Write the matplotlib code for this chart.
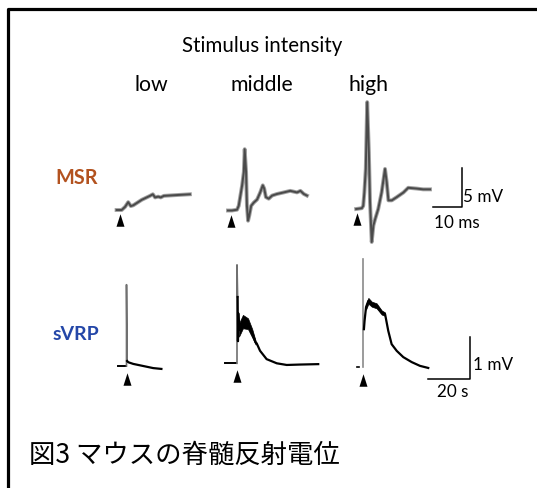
import numpy as np
import matplotlib
matplotlib.use("Agg")
import matplotlib.pyplot as plt
from matplotlib.path import Path

plt.rcParams['font.family'] = ['Lato', 'DejaVu Sans']

# ---- data ----
# MSR traces: time after stimulus (ms), voltage (mV)
msr_low_t = [-1.2, 0.6, 1.8, 2.9, 3.8, 4.7, 7.7, 10.6, 11.6, 12.4, 13.5, 14.4, 15.5, 20.0, 24.7]
msr_low_v = [0.0, 0.0, 0.4, 1.0, 0.5, 0.6, 1.3, 1.8, 2.0, 1.6, 1.7, 1.6, 1.8, 1.9, 2.0]

msr_mid_t = [-1.0, 0.4, 2.2, 2.8, 3.4, 4.0, 4.6, 4.9, 5.4, 5.7, 6.1, 6.5, 7.2, 8.1, 9.3, 10.4,
             11.3, 11.8, 12.4, 13.4, 14.6, 16.3, 18.7, 21.0, 23.4, 24.6, 25.8, 26.9]
msr_mid_v = [0.0, 0.0, 0.1, 0.6, 1.9, 3.2, 4.9, 7.8, 4.9, 0.6, -1.3, -0.7, 0.6, 1.0, 1.4, 2.3,
             3.2, 2.8, 1.7, 1.5, 1.9, 2.1, 2.3, 2.5, 2.3, 2.5, 2.1, 1.9]

msr_high_t = [-0.3, 1.7, 2.2, 2.6, 3.1, 3.6, 4.2, 4.6, 5.2, 5.8, 6.4, 7.5, 8.7, 9.9, 10.5, 11.1,
              12.3, 14.0, 16.4, 18.1, 21.1, 23.4, 25.8]
msr_high_v = [0.0, 0.1, 0.4, 2.1, 5.1, 13.6, 7.2, 0.9, -4.2, -2.1, -1.3, 0.0, 2.1, 5.1, 3.4, 1.1,
              1.1, 1.5, 2.1, 2.7, 2.6, 2.5, 2.5]

# sVRP traces: time after stimulus (s), voltage (mV)
vrp_low_spike = 1.95
vrp_low_t = [0.3, 0.85, 3.2, 7.9, 12.6, 16.5]
vrp_low_v = [0.12, 0.09, 0.05, 0.0, -0.05, -0.07]

vrp_mid_spike = 2.36
vrp_mid_t = [0.3, 0.45, 0.6, 0.95, 2.8, 5.2, 7.2, 8.8, 9.3, 10.9, 14.0, 18.8, 23.5, 29.8, 38.4]
vrp_mid_v = [1.59, 0.53, 1.2, 0.8, 1.0, 0.95, 0.72, 0.50, 0.48, 0.30, 0.10, 0.0, -0.04, -0.03, -0.02]
vrp_mid_band_t = [0.95, 2.8, 5.2, 7.2, 8.8]
vrp_mid_band_lo = [0.64, 0.84, 0.82, 0.62, 0.45]
vrp_mid_band_hi = [0.96, 1.16, 1.08, 0.82, 0.54]

vrp_high_spike = 2.58
vrp_high_t = [0.3, 0.6, 1.3, 2.4, 4.0, 6.3, 8.7, 10.3, 11.8, 13.4, 15.8, 18.9, 22.9, 26.8, 30.7]
vrp_high_v = [0.9, 1.1, 1.43, 1.58, 1.50, 1.46, 1.30, 1.26, 0.86, 0.54, 0.38, 0.23, 0.11, 0.02, -0.03]
vrp_high_band_t = [1.3, 2.4, 4.0, 6.3, 8.7, 10.3]
vrp_high_band_hw = [0.06, 0.07, 0.06, 0.06, 0.05, 0.04]

levels = ['low', 'middle', 'high']

W, H = 537, 489
fig = plt.figure(figsize=(W / 100, H / 100), dpi=100)
bg = fig.add_axes([0, 0, 1, 1])
bg.set_xlim(0, W)
bg.set_ylim(H, 0)
bg.axis('off')

# frame (cropped on right and bottom)
bg.plot([7.5, 7.5, W + 5], [H + 5, 9.5, 9.5], color='black', lw=2.3, solid_capstyle='butt')

bg.text(262, 46, 'Stimulus intensity', ha='center', va='center', fontsize=14.8)
for x, lab in zip([151, 262, 368], levels):
    bg.text(x, 85, lab, ha='center', va='center', fontsize=15.3)

bg.text(77, 178, 'MSR', ha='center', va='center', fontsize=14.3, fontweight='bold', color='#b3521f')
bg.text(76, 335, 'sVRP', ha='center', va='center', fontsize=14, fontweight='bold', color='#2447a8')

bg.text(29, 455, '図3 マウスの脊髄反射電位', ha='left', va='center', fontsize=19,
        family=['Noto Sans CJK JP', 'DejaVu Sans'])

arrow = Path([(-0.32, -0.5), (0.32, -0.5), (0, 0.5), (-0.32, -0.5)],
             [Path.MOVETO, Path.LINETO, Path.LINETO, Path.CLOSEPOLY])


def panel(sx, sy, kx, ky, xlim, ylim):
    # axes whose stimulus point (0, 0) lands on pixel (sx, sy)
    left = sx + xlim[0] * kx
    width = (xlim[1] - xlim[0]) * kx
    bottom_px = sy - ylim[0] * ky
    height = (ylim[1] - ylim[0]) * ky
    ax = fig.add_axes([left / W, (H - bottom_px) / H, width / W, height / H])
    ax.set_xlim(*xlim)
    ax.set_ylim(*ylim)
    ax.axis('off')
    return ax


# MSR row: 2.83 px per ms, 7.86 px per mV
msr_k = (2.83, 7.86)
msr_lims = ((-5, 45), (-6, 15))
msr_panels = [(120, 211, msr_low_t, msr_low_v),
              (230.8, 211.5, msr_mid_t, msr_mid_v),
              (357, 210, msr_high_t, msr_high_v)]
for sx, sy, t, v in msr_panels:
    ax = panel(sx, sy, *msr_k, *msr_lims)
    ax.plot(t, v, color='#a0a0a0', lw=2.8, solid_joinstyle='round')
    ax.plot(t, v, color='#4a4a4a', lw=1.4, solid_joinstyle='round')
    ax.plot([0], [-1.3], marker=arrow, markersize=9, color='black', markeredgewidth=0)
    last = ax

# MSR scale bar (5 mV, 10 ms)
last.plot([27, 37, 37], [0.2, 0.2, 5.2], color='black', lw=1.1)
last.text(37.5, 1.6, '5 mV', ha='left', va='center', fontsize=12.3)
last.text(35.3, -1.6, '10 ms', ha='center', va='center', fontsize=12.3)

# sVRP row: 2.115 px per s, 41.7 px per mV
vrp_k = (2.115, 41.7)
vrp_lims = ((-8, 65), (-0.6, 2.8))

ax = panel(126.5, 367, *vrp_k, *vrp_lims)
ax.plot([-3.9, -0.3], [0, 0], color='black', lw=1.4)
ax.plot([0, 0, 0.3], [0, vrp_low_spike, vrp_low_v[0]], color='#707070', lw=1.2)
ax.plot(vrp_low_t, vrp_low_v, color='black', lw=1.6)
ax.plot([0], [-0.31], marker=arrow, markersize=9, color='black', markeredgewidth=0)

ax = panel(237, 364.3, *vrp_k, *vrp_lims)
ax.plot([-5.7, -0.3], [0, 0], color='black', lw=1.4)
ax.plot([0, 0, 0.3], [0, vrp_mid_spike, vrp_mid_v[0]], color='#707070', lw=1.2)
ax.fill_between(vrp_mid_band_t, vrp_mid_band_lo, vrp_mid_band_hi, color='black', lw=0.5)
ax.plot(vrp_mid_t, vrp_mid_v, color='black', lw=1.6)
ax.plot([0], [-0.31], marker=arrow, markersize=9, color='black', markeredgewidth=0)

ax = panel(363.3, 367.7, *vrp_k, *vrp_lims)
ax.plot([-3.1, -1.8], [0, 0], color='black', lw=1.2)
ax.plot([0, 0], [0, vrp_high_spike], color='#8a8a8a', lw=1.2)
hv = np.interp(vrp_high_band_t, vrp_high_t, vrp_high_v)
hw = np.array(vrp_high_band_hw)
ax.fill_between(vrp_high_band_t, hv - hw, hv + hw, color='black', lw=0.5)
ax.plot(vrp_high_t, vrp_high_v, color='black', lw=1.6)
ax.plot([0], [-0.31], marker=arrow, markersize=9, color='black', markeredgewidth=0)

# sVRP scale bar (1 mV, 20 s)
ax.plot([30.4, 50.4, 50.4], [-0.29, -0.29, 0.71], color='black', lw=1.1)
ax.text(52.0, 0.06, '1 mV', ha='left', va='center', fontsize=12.3)
ax.text(42.4, -0.58, '20 s', ha='center', va='center', fontsize=12.3)

fig.savefig('out.png', dpi=100)
